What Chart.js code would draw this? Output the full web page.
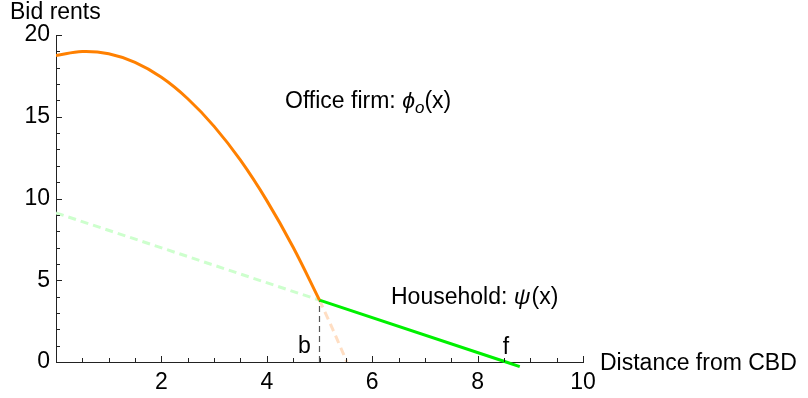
<!DOCTYPE html>
<html>
<head>
<meta charset="utf-8">
<script src="https://cdn.jsdelivr.net/npm/chart.js@4/dist/chart.umd.min.js"></script>
<style>
  html, body { margin: 0; padding: 0; background: #fff; }
  #wrap { width: 808px; height: 398px; }
</style>
</head>
<body>
<div id="wrap"><canvas id="chart" width="808" height="398"></canvas></div>
<script>
// office firm bid rent (solid part, up to b)
const officeX = [0, 0.5, 1, 1.5, 2, 2.5, 3, 3.5, 4, 4.5, 5];
const officeY = [18.74, 18.99, 18.85, 18.32, 17.41, 16.1, 14.41, 12.34, 9.87, 7.02, 3.78];
// office firm beyond b (faint dashed)
const officeExtX = [5, 5.25, 5.52];
const officeExtY = [3.78, 2.01, 0];
// household bid rent
const houseX = [5, 8.54, 8.8];
const houseY = [3.78, 0, -0.28];
const houseExtX = [0, 5];
const houseExtY = [9.12, 3.78];
// boundaries
const bX = 5;
const bY = 3.78;
const fX = 8.54;

const xLabels = [2, 4, 6, 8, 10];
const yLabels = [0, 5, 10, 15, 20];

const FONT = '"Liberation Sans", Arial, sans-serif';

const pts = (xs, ys) => xs.map((x, i) => ({ x: x, y: ys[i] }));

const tickMarks = {
  id: 'tickMarks',
  afterDraw(chart) {
    const { ctx, chartArea, scales } = chart;
    ctx.save();
    ctx.strokeStyle = '#222';
    ctx.lineWidth = 1;
    for (let v = 0; v <= 10.001; v += 0.5) {
      const px = Math.round(scales.x.getPixelForValue(v)) + 0.5;
      const len = Math.abs(v % 2) < 0.01 ? 6 : 4;
      ctx.beginPath();
      ctx.moveTo(px, chartArea.bottom);
      ctx.lineTo(px, chartArea.bottom - len);
      ctx.stroke();
    }
    for (let v = 0; v <= 20; v += 1) {
      const py = Math.round(scales.y.getPixelForValue(v)) + 0.5;
      const len = v % 5 === 0 ? 6 : 4;
      ctx.beginPath();
      ctx.moveTo(chartArea.left, py);
      ctx.lineTo(chartArea.left + len, py);
      ctx.stroke();
    }
    ctx.restore();
  }
};

const labels = {
  id: 'labels',
  afterDraw(chart) {
    const { ctx, scales } = chart;
    ctx.save();
    ctx.fillStyle = '#000';
    ctx.textBaseline = 'alphabetic';
    ctx.textAlign = 'left';
    const put = (parts, x, y) => {
      let cx = x;
      parts.forEach(p => {
        ctx.font = p.font;
        ctx.fillText(p.t, cx, y + (p.dy || 0));
        cx += ctx.measureText(p.t).width + (p.gap || 0);
      });
    };
    const reg = '23px ' + FONT;
    const it = 'italic 23px ' + FONT;
    const sub = 'italic 17px ' + FONT;
    put([{ t: 'Bid rents', font: reg }], 10, 19);
    put([{ t: 'Distance from CBD', font: reg }], 600, 370);
    put([{ t: 'Office firm: ', font: reg }, { t: 'ϕ', font: it }, { t: 'o', font: sub, dy: 5 }, { t: '(x)', font: reg }], 285, 108);
    put([{ t: 'Household: ', font: reg }, { t: 'ψ', font: it, gap: 1 }, { t: '(x)', font: reg }], 391, 304);
    ctx.font = reg;
    ctx.textAlign = 'center';
    ctx.fillText('b', scales.x.getPixelForValue(bX) - 15, 353);
    ctx.fillText('f', scales.x.getPixelForValue(fX), 354);
    ctx.restore();
  }
};

new Chart(document.getElementById('chart'), {
  type: 'scatter',
  data: {
    datasets: [
      {
        data: pts(officeX, officeY),
        borderColor: '#ff8000',
        borderWidth: 3,
        tension: 0.4
      },
      {
        data: pts(houseX, houseY),
        borderColor: '#00f000',
        borderWidth: 3,
        tension: 0,
        clip: false
      },
      {
        data: [{ x: bX, y: 0 }, { x: bX, y: bY }],
        borderColor: '#555',
        borderWidth: 1.2,
        borderDash: [6, 4],
        tension: 0
      },
      {
        data: pts(officeExtX, officeExtY),
        borderColor: 'rgb(255,222,195)',
        borderWidth: 3,
        borderDash: [8, 5],
        tension: 0.2
      },
      {
        data: pts(houseExtX, houseExtY),
        borderColor: 'rgb(205,255,205)',
        borderWidth: 3,
        borderDash: [8, 5],
        tension: 0
      }
    ]
  },
  options: {
    responsive: false,
    animation: false,
    showLine: true,
    elements: { point: { radius: 0, hoverRadius: 0 } },
    layout: { padding: { left: 0, top: 35, right: 225, bottom: 0 } },
    plugins: { legend: { display: false }, tooltip: { enabled: false } },
    scales: {
      x: {
        type: 'linear',
        min: 0,
        max: 10,
        afterFit: s => { s.height = 36; },
        grid: { display: false, drawTicks: false },
        border: { display: true, color: '#222', width: 1 },
        ticks: {
          stepSize: 0.5,
          autoSkip: false,
          maxRotation: 0,
          padding: 7,
          color: '#000',
          font: { family: FONT, size: 23 },
          callback: v => (xLabels.includes(v) ? String(v) : '')
        }
      },
      y: {
        type: 'linear',
        min: 0,
        max: 20,
        afterFit: s => { s.width = 56; },
        grid: { display: false, drawTicks: false },
        border: { display: true, color: '#222', width: 1 },
        ticks: {
          stepSize: 1,
          autoSkip: false,
          padding: 6,
          color: '#000',
          font: { family: FONT, size: 23 },
          callback: v => (yLabels.includes(v) ? String(v) : '')
        }
      }
    }
  },
  plugins: [tickMarks, labels]
});
</script>
</body>
</html>
